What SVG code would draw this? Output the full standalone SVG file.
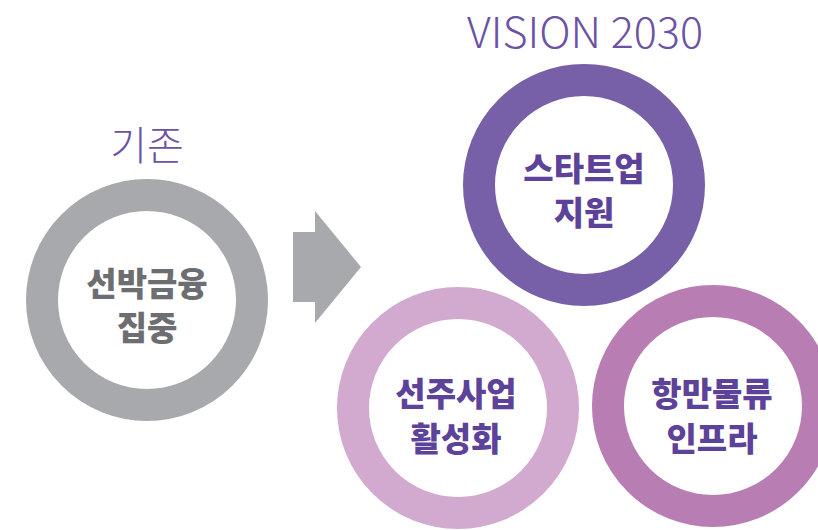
<svg xmlns="http://www.w3.org/2000/svg" width="818" height="530" viewBox="0 0 818 530">
<style>
.ring{fill:none;stroke-width:32}
.lbl{font-family:"Noto Sans CJK KR","Noto Sans",sans-serif;font-weight:900;font-size:33px;text-anchor:middle;fill:#5d4299}
.ttl{font-family:"Noto Sans CJK KR","Noto Sans",sans-serif;font-weight:300;text-anchor:middle;fill:#6b52a4}
</style>
<rect width="818" height="530" fill="#ffffff"/>
<text class="ttl" x="147" y="160" font-size="40">기존</text>
<text class="ttl" x="585" y="48" font-size="42" font-family="'Open Sans','Liberation Sans',sans-serif" textLength="236" lengthAdjust="spacingAndGlyphs">VISION 2030</text>
<g id="current">
<circle class="ring" cx="147" cy="300" r="105" stroke="#a7a9ac"/>
<text class="lbl" x="147" y="296" style="fill:#6d6e71">선박금융</text>
<text class="lbl" x="147" y="340" style="fill:#6d6e71">집중</text>
</g>
<g id="connectors">
<polygon points="293,232 315,232 315,211 361,267 315,323 315,302 293,302" fill="#a7a9ac"/>
</g>
<g id="startup">
<circle class="ring" cx="584" cy="185" r="105" stroke="#7760a8"/>
<text class="lbl" x="584" y="181">스타트업</text>
<text class="lbl" x="584" y="225">지원</text>
</g>
<g id="shipowner">
<circle class="ring" cx="458" cy="408" r="105" stroke="#d3aacf"/>
<text class="lbl" x="456" y="406">선주사업</text>
<text class="lbl" x="456" y="451">활성화</text>
</g>
<g id="port">
<circle class="ring" cx="713" cy="406" r="105" stroke="#b87db3"/>
<text class="lbl" x="712" y="406">항만물류</text>
<text class="lbl" x="712" y="451">인프라</text>
</g>
</svg>
